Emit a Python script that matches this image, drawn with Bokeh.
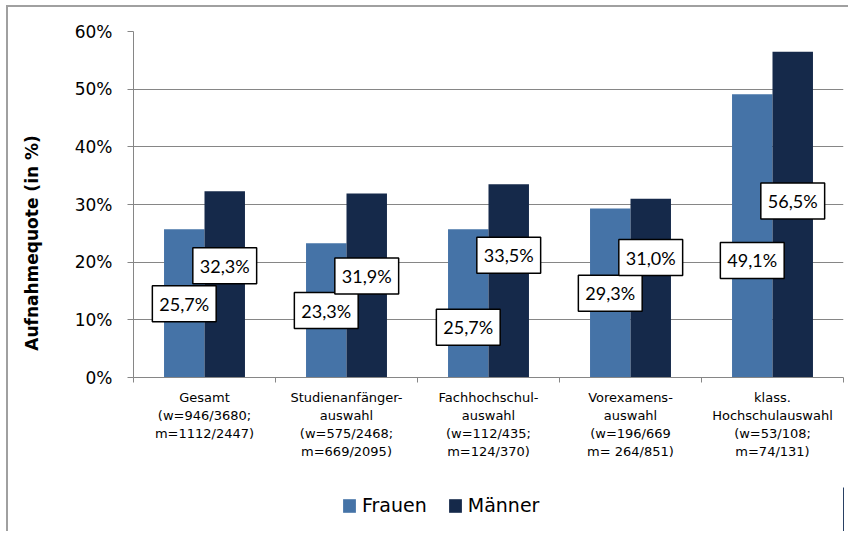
import numpy as np
from bokeh.plotting import figure
from bokeh.layouts import column
from bokeh.models import (ColumnDataSource, Range1d, LinearAxis, FixedTicker,
                          CustomJSTickFormatter, Legend, PrintfTickFormatter)
from bokeh.core.properties import value
from bokeh.transform import dodge
from bokeh.embed import file_html
from bokeh.resources import INLINE

categories = ["Gesamt", "Studienanfängerauswahl", "Fachhochschulauswahl",
              "Vorexamensauswahl", "klass. Hochschulauswahl"]
category_labels = ["Gesamt\n(w=946/3680;\nm=1112/2447)",
                   "Studienanfänger-\nauswahl\n(w=575/2468;\nm=669/2095)",
                   "Fachhochschul-\nauswahl\n(w=112/435;\nm=124/370)",
                   "Vorexamens-\nauswahl\n(w=196/669\nm= 264/851)",
                   "klass.\nHochschulauswahl\n(w=53/108;\nm=74/131)"]
frauen = [25.7, 23.3, 25.7, 29.3, 49.1]
maenner = [32.3, 31.9, 33.5, 31.0, 56.5]
frauen_label_y = [12.8, 11.6, 8.7, 14.6, 20.3]
maenner_label_y = [19.4, 17.6, 21.2, 20.8, 30.6]
y_ticks = [0, 10, 20, 30, 40, 50, 60]
series_names = ["Frauen", "Männer"]
y_title = "Aufnahmequote (in %)"

C_F = "#4573A7"
C_M = "#15294A"
GRID = "#868686"

def fmt(v):
    return f"{v:.1f}".replace(".", ",") + "%"

n = len(categories)
xc = list(np.arange(n) + 0.5)  # category centres on a 0..n axis
src = ColumnDataSource(dict(
    x=xc, cat=categories, frauen=frauen, maenner=maenner,
    fl=[fmt(v) for v in frauen], ml=[fmt(v) for v in maenner],
    fy=frauen_label_y, my=maenner_label_y))

p = figure(width=840, height=480, x_range=Range1d(0, n), y_range=Range1d(0, 60),
           output_backend="svg", toolbar_location=None, x_axis_location=None,
           min_border_left=125, min_border_right=5, min_border_top=24, min_border_bottom=110)
p.outline_line_color = None
p.xgrid.visible = False
p.ygrid.grid_line_color = GRID
p.ygrid.grid_line_width = 1

ya = p.yaxis[0]
ya.ticker = FixedTicker(ticks=y_ticks)
ya.formatter = PrintfTickFormatter(format="%d%%")
ya.axis_line_color = GRID
ya.major_tick_line_color = GRID
ya.major_tick_out = 6
ya.major_tick_in = 0
ya.minor_tick_line_color = None
ya.major_label_standoff = 15
ya.major_label_text_font = "DejaVu Sans"
ya.major_label_text_font_size = "17px"
ya.major_label_text_color = "#000000"
# trailing no-break spaces shift the visible title down, as in the original
ya.axis_label = y_title + "\u00a0" * 13
ya.axis_label_text_font = "DejaVu Sans"
ya.axis_label_text_font_style = "bold"
ya.axis_label_text_font_size = "17px"
ya.axis_label_text_color = "#000000"
ya.axis_label_standoff = 30

xa = LinearAxis(ticker=FixedTicker(ticks=xc, minor_ticks=list(range(n + 1))),
                formatter=CustomJSTickFormatter(args=dict(labels=category_labels),
                                                code="return labels[Math.floor(tick)];"))
xa.axis_line_color = GRID
xa.major_tick_line_color = None
xa.major_tick_out = 0
xa.major_tick_in = 0
xa.minor_tick_line_color = GRID
xa.minor_tick_out = 5
xa.minor_tick_in = 0
xa.major_label_standoff = 7
xa.major_label_text_font = "DejaVu Sans"
xa.major_label_text_font_size = "13px"
xa.major_label_text_line_height = 1.22
xa.major_label_text_color = "#000000"
p.add_layout(xa, "below")

off = 0.1425
w = 0.285
r1 = p.vbar(x=dodge("x", -off), top="frauen", width=w, source=src,
            fill_color=C_F, line_color=None)
r2 = p.vbar(x=dodge("x", off), top="maenner", width=w, source=src,
            fill_color=C_M, line_color=None)

for ycol, tcol, d in [("fy", "fl", -off), ("my", "ml", off)]:
    p.text(x=dodge("x", d), y=ycol, text=tcol, source=src,
           text_align="center", text_baseline="middle",
           text_font=value("Lato"), text_font_size="18px", text_color="#000000",
           background_fill_color="white", border_line_color="black",
           border_line_width=1.5, padding=7)

# legend strip below the chart: its ranges lie outside the data, so only the key shows
pl = figure(width=840, height=44, x_range=Range1d(-2, -1), y_range=Range1d(0, 1),
            output_backend="svg", toolbar_location=None, min_border=0,
            x_axis_location=None, y_axis_location=None)
pl.outline_line_color = None
pl.xgrid.visible = False
pl.ygrid.visible = False
lr1 = pl.vbar(x="x", top="frauen", width=w, source=src, fill_color=C_F, line_color=None)
lr2 = pl.vbar(x="x", top="maenner", width=w, source=src, fill_color=C_M, line_color=None)
legend = Legend(items=[(series_names[0], [lr1]), (series_names[1], [lr2])],
                orientation="horizontal", location=(208, 15),
                glyph_width=16, glyph_height=17, label_standoff=5, spacing=20,
                padding=0, margin=0, border_line_color=None, background_fill_alpha=0,
                label_text_font="DejaVu Sans", label_text_font_size="19px",
                label_text_color="#000000")
pl.add_layout(legend)

layout = column(p, pl, spacing=0,
                styles={"border-left": "2px solid #a0a0a0", "border-top": "2px solid #a0a0a0",
                        "margin-left": "6px", "margin-top": "5px"})

open("out.html", "w").write(file_html(layout, INLINE))
